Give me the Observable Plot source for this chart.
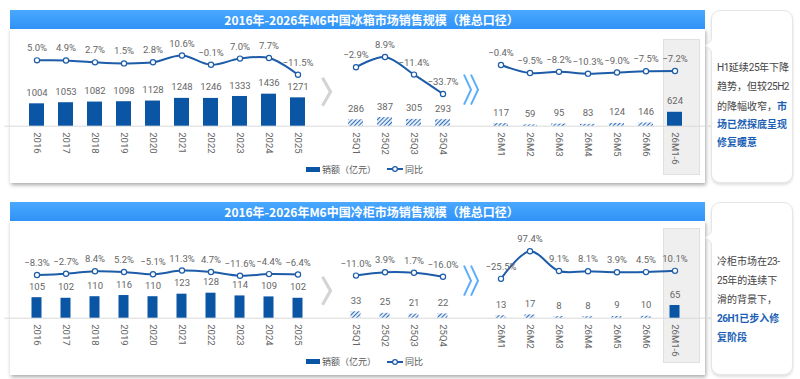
<!DOCTYPE html>
<html><head><meta charset="utf-8">
<script src="https://cdn.jsdelivr.net/npm/d3@7"></script>
<script src="https://cdn.jsdelivr.net/npm/@observablehq/plot@0.6"></script>
<style>
body{margin:0;background:#fff;font-family:"Noto Sans CJK SC",sans-serif;}
#page{position:relative;width:800px;height:379px;overflow:hidden;background:#fff}
.abs{position:absolute}
.panel{background:#fff;box-shadow:1px 2px 4px rgba(0,0,0,0.35)}
.title{color:#fff;font-weight:bold;font-size:12px;line-height:19px;text-align:center;background:linear-gradient(#4aa9ff,#2f92f6);box-sizing:border-box;padding-left:28px;white-space:nowrap}
.gray{background:#efefef;border:1px solid #e0e0e0;box-sizing:border-box}
.legend{font-size:9px;color:#555;display:flex;align-items:center;white-space:nowrap;height:12px}
.callout{border:1px solid #e6e6e6;border-radius:9px;background:#fff;box-shadow:0 2px 3px rgba(0,0,0,0.12);box-sizing:border-box}
.callout .txt{position:absolute;left:5px;font-size:10px;line-height:18.3px;color:#444;white-space:nowrap}
.callout .lat{letter-spacing:-0.5px}
.ptr{position:absolute;left:-5px;width:8px;height:8px;background:#fff;border-left:1px solid #e6e6e6;border-bottom:1px solid #e6e6e6;transform:rotate(45deg)}
.hl{color:#1b5fb5;font-weight:bold}
svg{position:absolute;left:0}
</style></head><body><div id="page"></div>
<script>
// ---------- data ----------
const annualCats = ["2016","2017","2018","2019","2020","2021","2022","2023","2024","2025"];
const quarterCats = ["25Q1","25Q2","25Q3","25Q4"];
const monthCats = ["26M1","26M2","26M3","26M4","26M5","26M6","26M1-6"];
const gapCats = ["gap1","gap2"];

const fridgeAnnualSales = [1004,1053,1082,1098,1128,1248,1246,1333,1436,1271];
const fridgeAnnualYoy = [5.0,4.9,2.7,1.5,2.8,10.6,-0.1,7.0,7.7,-11.5];
const fridgeQuarterSales = [286,387,305,293];
const fridgeQuarterYoy = [-2.9,8.9,-11.4,-33.7];
const fridgeMonthSales = [117,59,95,83,124,146,624];
const fridgeMonthYoy = [-0.4,-9.5,-8.2,-10.3,-9.0,-7.5,-7.2];

const freezerAnnualSales = [105,102,110,116,110,123,128,114,109,102];
const freezerAnnualYoy = [-8.3,-2.7,8.4,5.2,-5.1,11.3,4.7,-11.6,-4.4,-6.4];
const freezerQuarterSales = [33,25,21,22];
const freezerQuarterYoy = [-11.0,3.9,1.7,-16.0];
const freezerMonthSales = [13,17,8,8,9,10,65];
const freezerMonthYoy = [-25.5,97.4,9.1,8.1,3.9,4.5,10.1];

const fridgeTitle = "2016年-2026年M6中国冰箱市场销售规模（推总口径）";
const freezerTitle = "2016年-2026年M6中国冷柜市场销售规模（推总口径）";
const legendLabels = ["销额（亿元）","同比"];
const fridgeNote = [[["H1延续25年下降",0]],[["趋势，但较25H2",0]],[["的降幅收窄，",0],["市",1]],[["场已然探底呈现",1]],[["修复暖意",1]]];
const freezerNote = [[["冷柜市场在23-",0]],[["25年的连续下",0]],[["滑的背景下，",0]],[["26H1已步入修",1]],[["复阶段",1]]];

// ---------- fonts: pick the narrowest installed latin face ----------
const ctx = document.createElement("canvas").getContext("2d");
function w(font, s){ ctx.font = font; return ctx.measureText(s).width; }
function has(f){ const s="1004H25%abc"; return w(`40px "${f}", monospace`,s)!==w("40px monospace",s) || w(`40px "${f}", serif`,s)!==w("40px serif",s); }
const cands = ["Liberation Sans Narrow","DejaVu Sans Condensed","Roboto","Lato","Liberation Sans","Noto Sans CJK SC"].filter(has);
cands.sort((a,b)=>w(`40px "${a}"`,"1004 H1 25 -5.0%")-w(`40px "${b}"`,"1004 H1 25 -5.0%"));
const LATIN = cands[0] || "Noto Sans CJK SC";
const FONT = `"${LATIN}","Noto Sans CJK SC",sans-serif`;

// ---------- style ----------
const BAR = "#0b56a4", LINE = "#1d5ca8", LABEL = "#666";
const xDomain = [...annualCats, gapCats[0], ...quarterCats, gapCats[1], ...monthCats];
const page = document.getElementById("page");
const fmt = d3.format(".1f");

function el(tag, cls, css, html){ const e=document.createElement(tag); if(cls) e.className=cls; Object.assign(e.style, css||{}); if(html!=null) e.innerHTML=html; page.appendChild(e); return e; }
const latinWrap = s => s.replace(/[A-Za-z0-9\-]+/g, m=>`<span class="lat" style="font-family:${FONT.replace(/"/g,"'")}">${m}</span>`);

function build(cfg){
  const T = cfg.top;
  el("div","abs panel",{left:"10px",top:(T+cfg.panelTop)+"px",width:"695px",height:"154px"});
  el("div","abs title",{left:"10px",top:(T+cfg.titleTop)+"px",width:"695px",height:"19px"},cfg.title);
  el("div","abs gray",{left:"663px",top:(T+cfg.grayTop)+"px",width:"37px",height:cfg.grayH+"px"});

  const rows = [];
  annualCats.forEach((c,i)=>rows.push({cat:c,sales:cfg.annual[i],yoy:cfg.annualYoy[i],group:"annual",solid:true}));
  quarterCats.forEach((c,i)=>rows.push({cat:c,sales:cfg.quarter[i],yoy:cfg.quarterYoy[i],group:"quarter",solid:false}));
  monthCats.forEach((c,i)=>rows.push({cat:c,sales:cfg.month[i],yoy:cfg.monthYoy[i],group:"month",solid:c==="26M1-6"}));

  const H = cfg.height;
  const xOpt = {type:"band",domain:xDomain,range:[5.7,704.4],padding:0.5,axis:null};
  const hatchId = "hatch-"+cfg.id;
  const bars = Plot.plot({
    width:800,height:H,margin:0,
    style:{background:"transparent",overflow:"visible",fontFamily:FONT},
    x:xOpt,
    y:{domain:[0,cfg.yRef],range:[cfg.base,cfg.base-cfg.refPx],axis:null},
    marks:[
      Plot.ruleY([0],{stroke:"#d9d9d9",strokeWidth:1,insetLeft:4.3,insetRight:41.4}),
      Plot.barY(rows.filter(d=>d.solid),{x:"cat",y:"sales",fill:BAR,insetLeft:cfg.inset,insetRight:cfg.inset}),
      Plot.barY(rows.filter(d=>!d.solid),{x:"cat",y:"sales",fill:`url(#${hatchId})`,insetLeft:cfg.inset,insetRight:cfg.inset}),
      Plot.text(rows,{x:"cat",y:"sales",text:d=>String(d.sales),dy:-11,fill:LABEL,fontSize:9.5}),
      Plot.text(rows,{x:"cat",y:()=>0,text:"cat",rotate:90,textAnchor:"start",lineAnchor:"middle",dy:6,fill:LABEL,fontSize:9.5})
    ]
  });
  bars.style.top = T+"px";
  d3.select(bars).insert("defs",":first-child").html(
    `<pattern id="${hatchId}" patternUnits="userSpaceOnUse" width="3" height="3" patternTransform="rotate(45)">
       <rect width="3" height="3" fill="#e4eef9"/><line x1="0" y1="0" x2="0" y2="3" stroke="#1f5fb0" stroke-width="1.8"/></pattern>`);
  const sx = bars.scale("x");
  const bw = sx.bandwidth || 0;
  const px = c => (sx.apply ? sx.apply(c) : d3.scaleBand(sx.domain, sx.range).padding(0.5)(c)) + bw/2;
  const g = d3.select(bars).append("g");
  const c1 = px(gapCats[0]), c2 = px(gapCats[1]);
  const gy = cfg.base + cfg.grayDy, by = cfg.base + cfg.blueDy, hh = 14;
  g.append("path").attr("d",`M${c1-4},${gy-hh}L${c1+4},${gy}L${c1-4},${gy+hh}`).attr("fill","none").attr("stroke","#d4d4d4").attr("stroke-width",3.2);
  [-3.5,3.5].forEach(o=>g.append("path").attr("d",`M${c2+o-4},${by-hh-1}L${c2+o+3},${by}L${c2+o-4},${by+hh+1}`).attr("fill","none").attr("stroke","#5aaefc").attr("stroke-width",2));
  page.appendChild(bars);

  const line = Plot.plot({
    width:800,height:H,margin:0,
    style:{background:"transparent",overflow:"visible",fontFamily:FONT},
    x:xOpt,
    y:{domain:cfg.pctDomain,range:cfg.pctRange,axis:null},
    marks:[
      Plot.line(rows,{x:"cat",y:"yoy",z:"group",stroke:LINE,strokeWidth:2,curve:"catmull-rom"}),
      Plot.dot(rows,{x:"cat",y:"yoy",r:2.6,fill:"white",stroke:LINE,strokeWidth:1.2}),
      Plot.text(rows,{x:"cat",y:"yoy",text:d=>fmt(d.yoy)+"%",dy:-12,fill:LABEL,fontSize:9.5})
    ]
  });
  line.style.top = T+"px";
  page.appendChild(line);

  el("div","abs legend",{left:"306px",top:(T+cfg.legendY-6)+"px"},
    `<span style="display:inline-block;width:14px;height:5px;background:${BAR};margin-right:2px"></span>${legendLabels[0]}
     <svg width="16" height="8" style="position:static;margin-left:11px;margin-right:2px"><line x1="0" y1="4" x2="16" y2="4" stroke="${LINE}" stroke-width="2"/><circle cx="8" cy="4" r="2.4" fill="#fff" stroke="${LINE}" stroke-width="1.2"/></svg>${legendLabels[1]}`);

  const co = el("div","abs callout",{left:"711px",top:(T+cfg.calloutTop)+"px",width:"82px",height:"173px"});
  const p = document.createElement("div"); p.className="ptr"; p.style.top="30px"; co.appendChild(p);
  const t = document.createElement("div"); t.className="txt"; t.style.top=cfg.noteTop+"px";
  t.innerHTML = cfg.note.map(l=>l.map(([s,h])=>h?`<span class="hl">${latinWrap(s)}</span>`:latinWrap(s)).join("")).join("<br>");
  co.appendChild(t);
}

build({id:"fridge",top:0,height:190,titleTop:10,panelTop:29,grayTop:39,grayH:136,title:fridgeTitle,
  annual:fridgeAnnualSales,annualYoy:fridgeAnnualYoy,quarter:fridgeQuarterSales,quarterYoy:fridgeQuarterYoy,month:fridgeMonthSales,monthYoy:fridgeMonthYoy,
  base:125.7,yRef:1000,refPx:22.3,inset:0,pctDomain:[-50,50],pctRange:[107.7,20.7],
  grayDy:-34,blueDy:-36,legendY:169,calloutTop:10,noteTop:47,note:fridgeNote});
build({id:"freezer",top:190,height:189,titleTop:11.7,panelTop:31,grayTop:38,grayH:135,title:freezerTitle,
  annual:freezerAnnualSales,annualYoy:freezerAnnualYoy,quarter:freezerQuarterSales,quarterYoy:freezerQuarterYoy,month:freezerMonthSales,monthYoy:freezerMonthYoy,
  base:127.7,yRef:128,refPx:25,inset:2.5,pctDomain:[-100,100],pctRange:[105.1,60.1],
  grayDy:-27,blueDy:-37,legendY:171.7,calloutTop:11.7,noteTop:49,note:freezerNote});
</script></body></html>
